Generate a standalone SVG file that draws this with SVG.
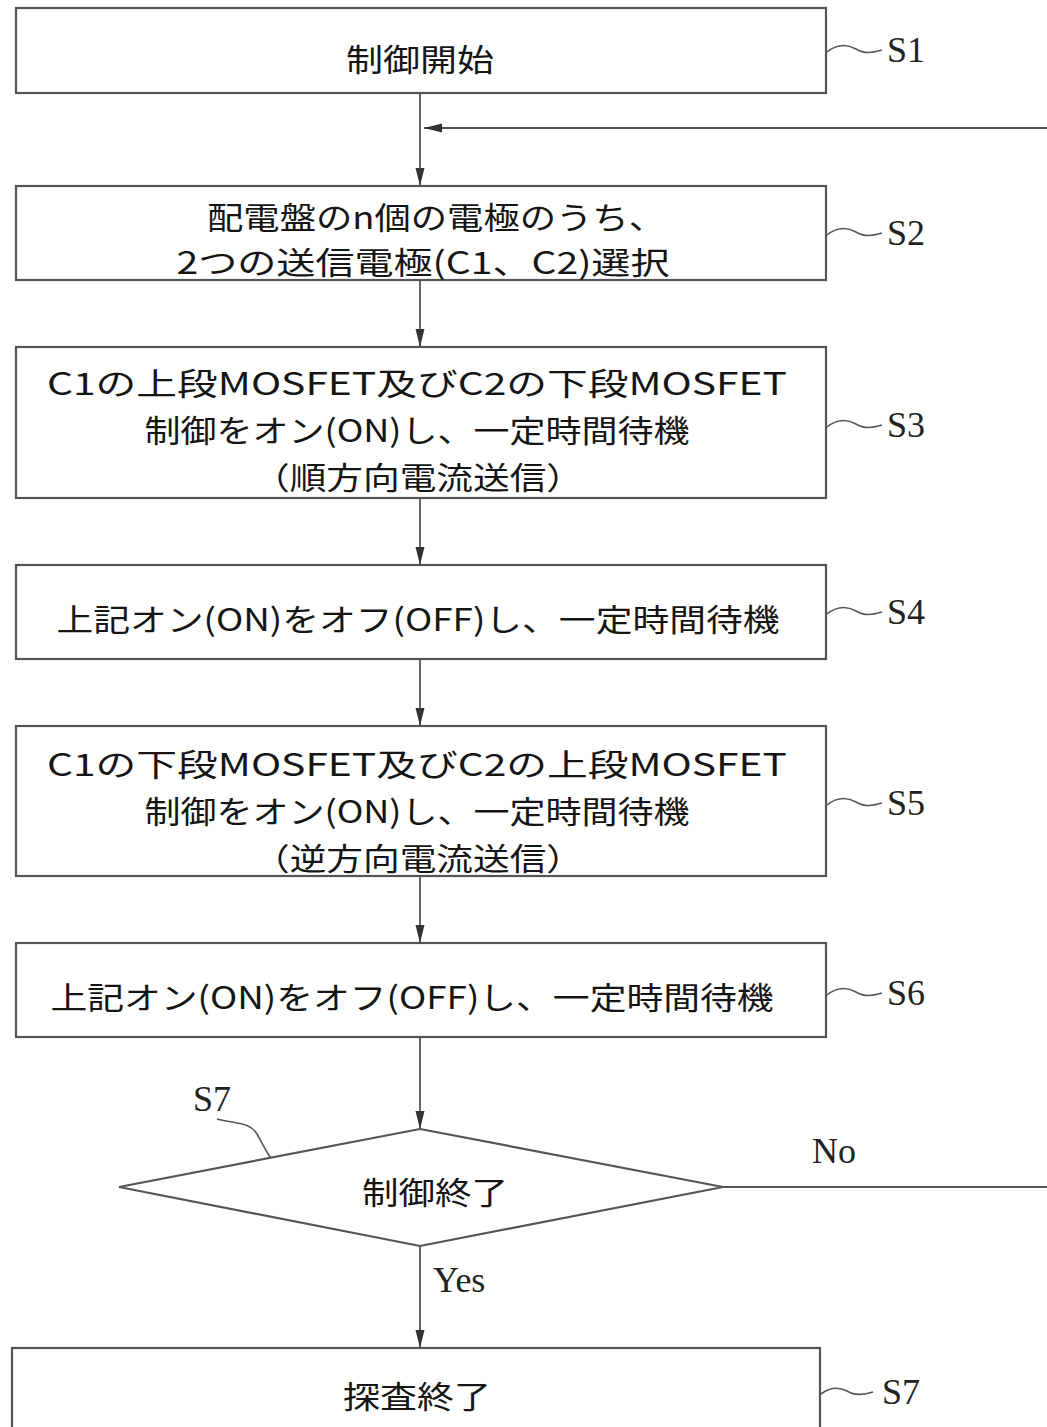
<svg xmlns="http://www.w3.org/2000/svg" width="1047" height="1427" viewBox="0 0 1047 1427">
<defs>
<style>
.box{fill:#fff;stroke:#555;stroke-width:2.2}
.ln{fill:none;stroke:#555;stroke-width:1.8}
.lead{fill:none;stroke:#555;stroke-width:1.6}
.jp{font-family:"Noto Sans CJK JP","Noto Sans CJK SC",sans-serif;font-size:31px;fill:#151515;text-anchor:middle;dominant-baseline:central}
.lbl{font-family:"Liberation Serif",serif;font-size:36px;fill:#222}
</style>
<marker id="ah" markerUnits="userSpaceOnUse" markerWidth="18" markerHeight="10" refX="18" refY="5" orient="auto">
<path d="M0,0.5 L18,5 L0,9.5 z" fill="#333"/>
</marker>
</defs>
<rect width="1047" height="1427" fill="#fff"/>

<g id="connectors">
<line class="ln" x1="420" y1="93" x2="420" y2="186" marker-end="url(#ah)"/>
<line class="ln" x1="1050" y1="128" x2="424" y2="128" marker-end="url(#ah)"/>
<line class="ln" x1="420" y1="280" x2="420" y2="347" marker-end="url(#ah)"/>
<line class="ln" x1="420" y1="498" x2="420" y2="565" marker-end="url(#ah)"/>
<line class="ln" x1="420" y1="659" x2="420" y2="726" marker-end="url(#ah)"/>
<line class="ln" x1="420" y1="876" x2="420" y2="943" marker-end="url(#ah)"/>
<line class="ln" x1="420" y1="1037" x2="420" y2="1129" marker-end="url(#ah)"/>
<line class="ln" x1="420" y1="1246" x2="420" y2="1348" marker-end="url(#ah)"/>
<line class="ln" x1="723" y1="1187" x2="1050" y2="1187"/>
<text class="lbl" x="812" y="1163">No</text>
<text class="lbl" x="433" y="1292">Yes</text>
</g>

<g id="S1">
<rect class="box" x="16" y="8" width="810" height="85"/>
<text class="jp" x="420" y="57" textLength="148" lengthAdjust="spacingAndGlyphs">制御開始</text>
<path class="lead" d="M827,52 C837,44 847,44 856,49 C864,54 872,53 882,50"/>
<text class="lbl" x="887" y="62">S1</text>
</g>

<g id="S2">
<rect class="box" x="16" y="186" width="810" height="94"/>
<text class="jp" x="436" y="215" textLength="458" lengthAdjust="spacingAndGlyphs">配電盤のn個の電極のうち、</text>
<text class="jp" x="423" y="260" textLength="493" lengthAdjust="spacingAndGlyphs">2つの送信電極(C1、C2)選択</text>
<path class="lead" d="M827,235 C837,227 847,227 856,232 C864,237 872,236 882,233"/>
<text class="lbl" x="887" y="245">S2</text>
</g>

<g id="S3">
<rect class="box" x="16" y="347" width="810" height="151"/>
<text class="jp" x="417" y="381" textLength="740" lengthAdjust="spacingAndGlyphs">C1の上段MOSFET及びC2の下段MOSFET</text>
<text class="jp" x="417" y="428" textLength="545" lengthAdjust="spacingAndGlyphs">制御をオン(ON)し、一定時間待機</text>
<text class="jp" x="418" y="475" textLength="330" lengthAdjust="spacingAndGlyphs">（順方向電流送信）</text>
<path class="lead" d="M827,427 C837,419 847,419 856,424 C864,429 872,428 882,425"/>
<text class="lbl" x="887" y="437">S3</text>
</g>

<g id="S4">
<rect class="box" x="16" y="565" width="810" height="94"/>
<text class="jp" x="418" y="617" textLength="723" lengthAdjust="spacingAndGlyphs">上記オン(ON)をオフ(OFF)し、一定時間待機</text>
<path class="lead" d="M827,614 C837,606 847,606 856,611 C864,616 872,615 882,612"/>
<text class="lbl" x="887" y="624">S4</text>
</g>

<g id="S5">
<rect class="box" x="16" y="726" width="810" height="150"/>
<text class="jp" x="417" y="762" textLength="740" lengthAdjust="spacingAndGlyphs">C1の下段MOSFET及びC2の上段MOSFET</text>
<text class="jp" x="417" y="809" textLength="545" lengthAdjust="spacingAndGlyphs">制御をオン(ON)し、一定時間待機</text>
<text class="jp" x="418" y="856" textLength="330" lengthAdjust="spacingAndGlyphs">（逆方向電流送信）</text>
<path class="lead" d="M827,805 C837,797 847,797 856,802 C864,807 872,806 882,803"/>
<text class="lbl" x="887" y="815">S5</text>
</g>

<g id="S6">
<rect class="box" x="16" y="943" width="810" height="94"/>
<text class="jp" x="412" y="995" textLength="723" lengthAdjust="spacingAndGlyphs">上記オン(ON)をオフ(OFF)し、一定時間待機</text>
<path class="lead" d="M827,995 C837,987 847,987 856,992 C864,997 872,996 882,993"/>
<text class="lbl" x="887" y="1005">S6</text>
</g>

<g id="S7-decision">
<polygon class="box" points="420,1129 723,1187 420,1246 119,1187"/>
<text class="jp" x="435" y="1190" textLength="146" lengthAdjust="spacingAndGlyphs">制御終了</text>
<path class="lead" d="M217,1119 C236,1124 250,1122 257,1134 C263,1145 266,1151 270,1157"/>
<text class="lbl" x="193" y="1111">S7</text>
</g>

<g id="S7-end">
<rect class="box" x="12" y="1348" width="808" height="100"/>
<text class="jp" x="417" y="1394" textLength="148" lengthAdjust="spacingAndGlyphs">探査終了</text>
<path class="lead" d="M821,1394 C830,1387 839,1387 847,1391 C855,1396 864,1395 873,1392"/>
<text class="lbl" x="882" y="1404">S7</text>
</g>
</svg>
